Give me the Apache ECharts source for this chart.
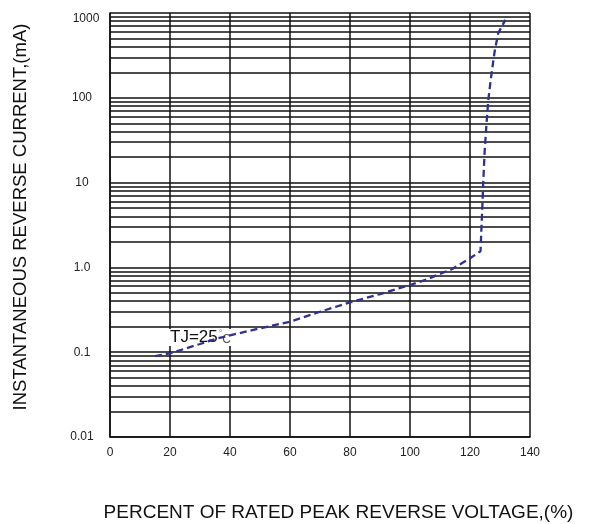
<!DOCTYPE html>
<html>
<head>
<meta charset="utf-8">
<script src="https://cdn.jsdelivr.net/npm/echarts@6/dist/echarts.min.js"></script>
<style>
html,body{margin:0;padding:0;background:#fff;}
#c{width:595px;height:524px;}
</style>
</head>
<body>
<div id="c"></div>
<script>
// ---- data ----
var percentVoltage = [15, 20, 30, 36, 40, 50, 60, 70, 80, 90, 100, 105.6, 110, 113.9, 120, 123.5, 124.2, 124.4, 124.9, 125.6, 126.1, 126.9, 127.8, 128.3, 129.4, 131.8];
var reverseCurrent = [0.09, 0.097, 0.125, 0.146, 0.158, 0.191, 0.229, 0.30, 0.387, 0.485, 0.62, 0.72, 0.84, 0.95, 1.28, 1.55, 6.2, 9.8, 24, 55, 94, 162, 279, 366, 577, 830];
var yTickValues = [0.01, 0.1, 1, 10, 100, 1000];
var yTickLabels = ['0.01', '0.1', '1.0', '10', '100', '1000'];
var xTickLabels = ['0', '20', '40', '60', '80', '100', '120', '140'];
var minorGrid = [0.02,0.03,0.04,0.05,0.06,0.07,0.08,0.09,
                 0.2,0.3,0.4,0.5,0.6,0.7,0.8,0.9,
                 2,3,4,5,6,7,8,9,
                 20,30,40,50,60,70,80,90,
                 200,300,400,500,600,700,800,900];
var curveLabel = 'TJ=25';
var xTitle = 'PERCENT OF RATED PEAK REVERSE VOLTAGE,(%)';
var yTitle = 'INSTANTANEOUS REVERSE CURRENT,(mA)';

var chart = echarts.init(document.getElementById('c'), null, {renderer: 'canvas'});
var gridColor = '#111';
var font = 'Liberation Sans, Arial, sans-serif';

var curve = percentVoltage.map(function (x, i) { return [x, reverseCurrent[i]]; });

chart.setOption({
  animation: false,
  backgroundColor: '#fff',
  grid: {left: 110, right: 65, top: 13, bottom: 87, containLabel: false, outerBoundsMode: 'none'},
  xAxis: {
    type: 'value', min: 0, max: 140, interval: 20,
    axisLine: {show: true, onZero: false, lineStyle: {color: gridColor, width: 1.5}},
    axisTick: {show: false},
    splitLine: {show: true, lineStyle: {color: gridColor, width: 1.5}},
    axisLabel: {color: '#222', fontSize: 12, fontFamily: font, margin: 10,
      formatter: function (v) { return xTickLabels[Math.round(v / 20)]; }},
    name: xTitle, nameLocation: 'middle', nameGap: 66,
    nameTextStyle: {color: '#111', fontSize: 19, fontFamily: font, padding: [0, 0, 0, 37]}
  },
  yAxis: {
    type: 'log', logBase: 10, min: 0.01, max: 1000,
    axisLine: {show: true, lineStyle: {color: gridColor, width: 1.5}},
    axisTick: {show: false},
    splitLine: {show: true, lineStyle: {color: gridColor, width: 1.5}},
    axisLabel: {color: '#222', fontSize: 12, fontFamily: font, margin: 28, align: 'center',
      formatter: function (v) {
        for (var i = 0; i < yTickValues.length; i++) {
          if (Math.abs(Math.log10(v) - Math.log10(yTickValues[i])) < 1e-6) {
            return i === yTickValues.length - 1 ? '{top|' + yTickLabels[i] + '}' : yTickLabels[i];
          }
        }
        return '';
      },
      rich: {top: {fontSize: 12, fontFamily: font, color: '#222', padding: [12, 0, 0, 8]}}
    },
    name: yTitle, nameLocation: 'middle', nameGap: 80, nameRotate: 90,
    nameTextStyle: {color: '#111', fontSize: 18.5, fontFamily: font, padding: [0, 0, 0, 16]}
  },
  graphic: [{
    type: 'group', left: 166, top: 329, z: 5,
    children: [
      {type: 'rect', shape: {x: 0, y: 0, width: 68, height: 17}, style: {fill: '#fff'}, z: 5},
      {type: 'text', x: 4, y: 8.5, z: 6, style: {
        text: '{a|' + curveLabel + '}{b|°}{c|C}',
        verticalAlign: 'middle',
        rich: {
          a: {fontSize: 17, fontFamily: font, fill: '#111', verticalAlign: 'bottom'},
          b: {fontSize: 9, fontFamily: font, fill: '#777', verticalAlign: 'top', padding: [0, 0, 0, 1]},
          c: {fontSize: 12, fontFamily: font, fill: '#555', verticalAlign: 'bottom'}
        }
      }}
    ]
  }],
  series: [
    {
      type: 'line', data: [], z: 1, silent: true,
      markLine: {
        silent: true, symbol: ['none', 'none'], label: {show: false},
        lineStyle: {color: gridColor, width: 1.5, type: 'solid'},
        data: minorGrid.map(function (v) { return {yAxis: v}; })
      }
    },
    {
      type: 'line', data: curve, z: 10, showSymbol: false, smooth: false,
      lineStyle: {color: '#2e3192', width: 2.3, type: [7, 4]}
    }
  ]
});
</script>
</body>
</html>
